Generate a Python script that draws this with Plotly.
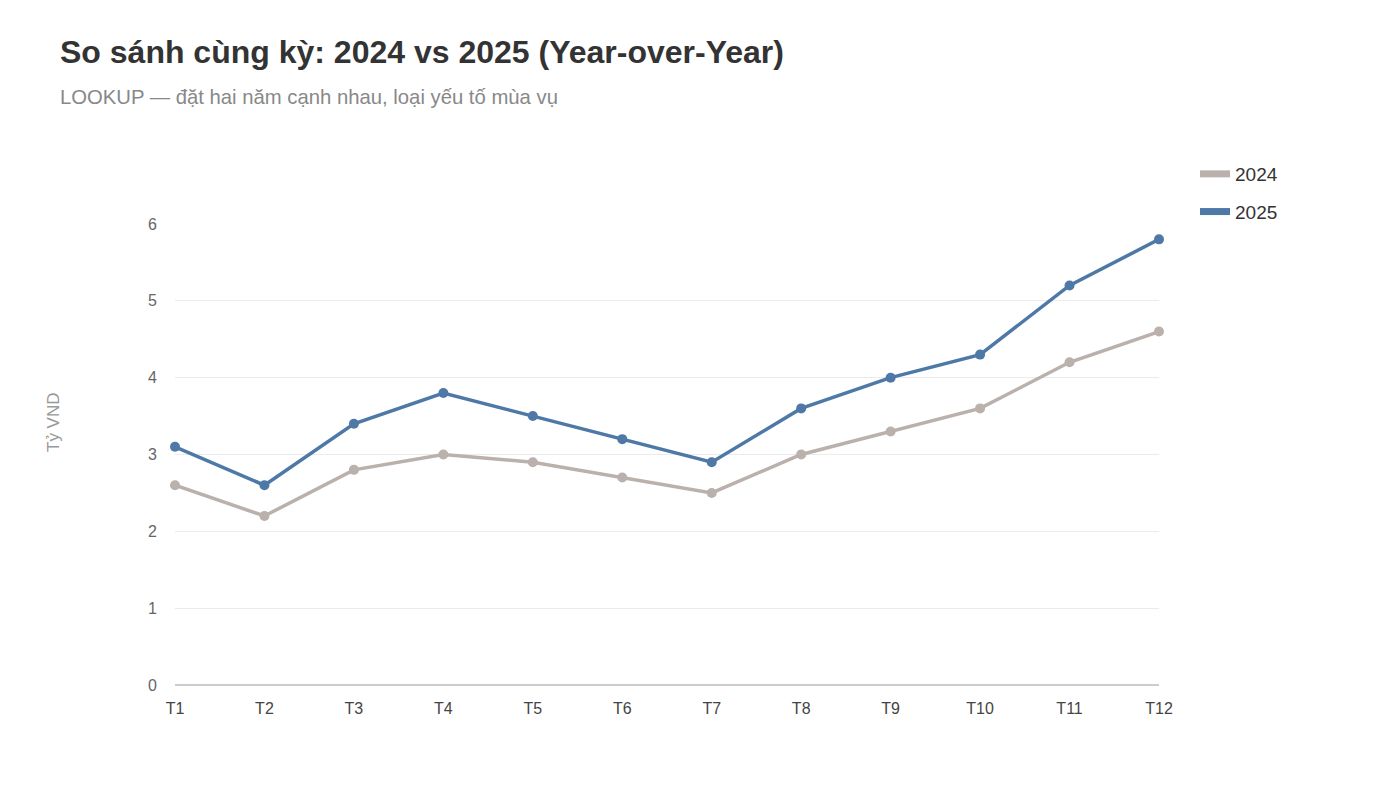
import plotly.graph_objects as go

months = ["T1", "T2", "T3", "T4", "T5", "T6", "T7", "T8", "T9", "T10", "T11", "T12"]
y2024 = [2.6, 2.2, 2.8, 3.0, 2.9, 2.7, 2.5, 3.0, 3.3, 3.6, 4.2, 4.6]
y2025 = [3.1, 2.6, 3.4, 3.8, 3.5, 3.2, 2.9, 3.6, 4.0, 4.3, 5.2, 5.8]
series_names = ["2024", "2025"]
colors = ["#bab0ac", "#4e79a7"]

W, H = 1400, 787
L, R, T, B = 175, 1159, 224, 685
pw, ph = R - L, B - T

fig = go.Figure()
for name, ys, c in zip(series_names, [y2024, y2025], colors):
    fig.add_trace(go.Scatter(
        x=months, y=ys, mode="lines+markers", name=name,
        line=dict(color=c, width=3.5), marker=dict(color=c, size=10),
        cliponaxis=False, showlegend=False, hoverinfo="x+y+name"))
for name, c in zip(series_names, colors):
    fig.add_trace(go.Scatter(
        x=[None], y=[None], mode="lines", name=name, legendgroup=name,
        line=dict(color=c, width=7), showlegend=True))

def px(x):
    return (x - L) / pw

def py(y):
    return (B - y) / ph

fig.update_layout(
    width=W, height=H,
    margin=dict(l=L, r=W - R, t=T, b=H - B, autoexpand=False),
    paper_bgcolor="white", plot_bgcolor="white",
    font=dict(family="Liberation Sans, Arial, sans-serif", color="#666"),
    xaxis=dict(range=[0, 11], showgrid=False, showline=False, zeroline=False,
               ticks="", tickfont=dict(size=16, color="#444"), ticklabelstandoff=12,
               fixedrange=True),
    yaxis=dict(range=[0, 6], tickvals=[0, 1, 2, 3, 4, 5, 6], showgrid=True,
               gridcolor="#ebebeb", gridwidth=1, zeroline=True, zerolinecolor="#cccccc",
               zerolinewidth=2, showline=False, ticks="",
               tickfont=dict(size=16, color="#666"), ticklabelstandoff=17,
               fixedrange=True),
    showlegend=True,
    legend=dict(x=px(1195), y=py(155), xanchor="left", yanchor="top",
                font=dict(size=19, color="#333"), tracegroupgap=10,
                traceorder="grouped", itemwidth=30, bgcolor="rgba(0,0,0,0)"),
    annotations=[
        dict(text="<b>So sánh cùng kỳ: 2024 vs 2025 (Year-over-Year)</b>",
             xref="paper", yref="paper", x=px(58), y=py(52), xanchor="left",
             yanchor="middle", showarrow=False,
             font=dict(size=32, color="#333")),
        dict(text="LOOKUP — đặt hai năm cạnh nhau, loại yếu tố mùa vụ",
             xref="paper", yref="paper", x=px(58), y=py(97), xanchor="left",
             yanchor="middle", showarrow=False,
             font=dict(size=20.3, color="#888")),
        dict(text="Tỷ VND", xref="paper", yref="paper", x=px(53), y=py(422),
             xanchor="center", yanchor="middle", textangle=-90, showarrow=False,
             font=dict(size=17, color="#999")),
    ],
)

fig.write_html("out.html")
